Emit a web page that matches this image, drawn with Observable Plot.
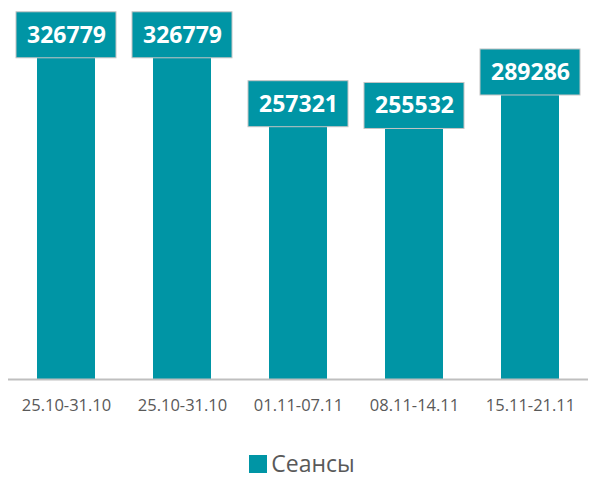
<!DOCTYPE html>
<html><head><meta charset="utf-8">
<script src="https://cdn.jsdelivr.net/npm/d3@7"></script>
<script src="https://cdn.jsdelivr.net/npm/@observablehq/plot@0.6"></script>
<style>
body{margin:0;background:#fff;font-family:"Open Sans",sans-serif;width:590px}
#chart svg{display:block}
#legend{margin-top:10px;width:590px;display:flex;justify-content:center;align-items:center;padding-left:14px;box-sizing:border-box;color:#595959;font-size:23px;line-height:27px}
#legend .sw{width:18px;height:18px;background:#0095a5;margin-right:4px;display:inline-block}
</style></head><body>
<div id="chart"></div>
<div id="legend"><span class="sw"></span><span>Сеансы</span></div>
<script>
const weeks = ["25.10-31.10","25.10-31.10","01.11-07.11","08.11-14.11","15.11-21.11"];
const sessions = [326779, 326779, 257321, 255532, 289286];
const seriesName = "Сеансы";
const color = "#0095a5";

const data = sessions.map((v, i) => ({i, week: weeks[i], v}));

const chart = Plot.plot({
  width: 590, height: 440,
  marginTop: 0, marginBottom: 61, marginLeft: 8, marginRight: 2,
  x: {type: "band", domain: d3.range(weeks.length), paddingInner: 0.5, paddingOuter: 0.25,
      tickFormat: i => weeks[i], tickSize: 0, tickPadding: 20, label: null},
  y: {domain: [0, 382000], axis: null},
  style: {fontFamily: "Open Sans", fontSize: "16.5px", color: "#595959", background: "white"},
  marks: [
    Plot.barY(data, {x: "i", y: "v", fill: color}),
    Plot.barY(data, {x: "i", y1: "v", y2: "v", fill: color, stroke: "#c4c4c4", strokeWidth: 1,
      insetTop: -43, insetBottom: -3, insetLeft: -21, insetRight: -21}),
    Plot.text(data, {x: "i", y: "v", text: d => String(d.v), dy: -20, fill: "white",
      fontWeight: "bold", fontSize: 23}),
    Plot.ruleY([0], {stroke: "#bfbfbf", strokeWidth: 2})
  ]
});
document.getElementById("chart").append(chart);
</script>
</body></html>
